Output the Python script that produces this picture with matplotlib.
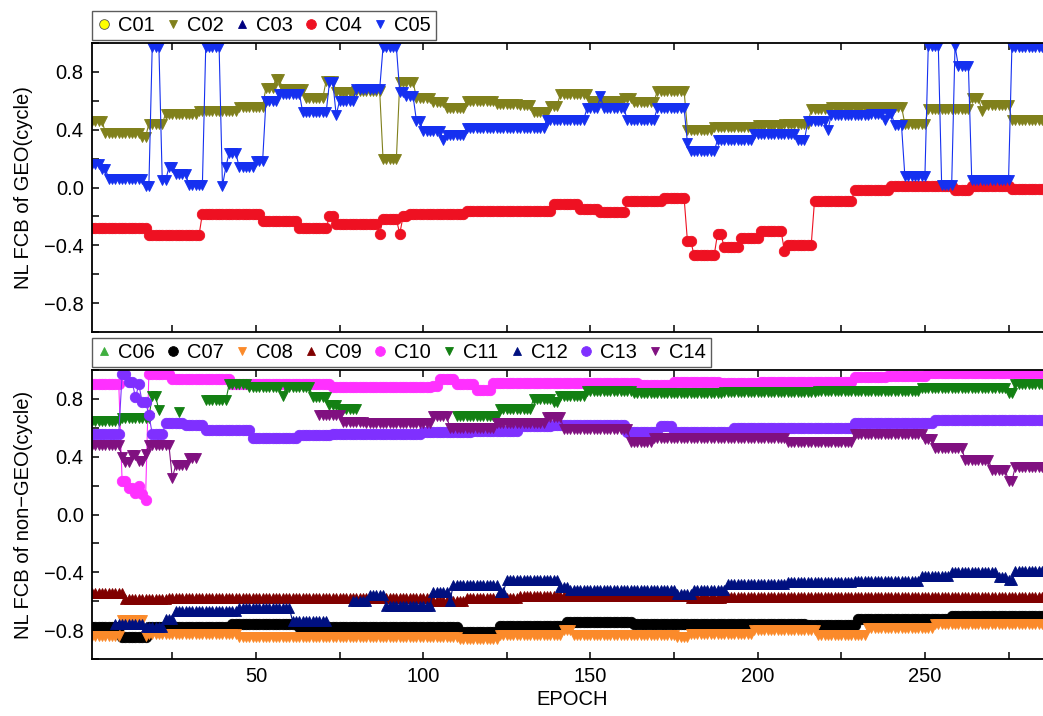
import numpy as np
import matplotlib
matplotlib.use("Agg")
import matplotlib.pyplot as plt
from matplotlib.lines import Line2D
from matplotlib.ticker import MultipleLocator, FuncFormatter

plt.rcParams['font.family'] = ['Liberation Sans', 'DejaVu Sans']

N_EPOCH = 285
NAN = np.nan

# ---- data: (start_epoch, value) step segments ----
C01 = []
C02 = [(1, 0.46), (5, 0.38), (16, 0.35), (18, 0.44), (23, 0.51), (33, 0.53), (45, 0.56),
       (53, 0.69), (56, 0.75), (58, 0.68), (65, 0.62), (71, 0.74), (74, 0.66), (80, 0.67),
       (88, 0.20), (93, 0.73), (98, 0.62), (103, 0.59), (107, 0.55), (113, 0.60), (122, 0.58),
       (129, 0.57), (133, 0.52), (138, 0.565), (141, 0.645), (150, 0.60), (160, 0.62),
       (163, 0.59), (170, 0.67), (179, 0.40), (187, 0.42), (200, 0.43), (208, 0.44),
       (216, 0.54), (222, 0.56), (244, 0.44), (251, 0.54), (264, 0.62), (267, 0.53),
       (268, 0.57), (276, 0.47)]
C03 = []
C04 = [(1, -0.28), (18, -0.33), (34, -0.18), (52, -0.23), (63, -0.28), (72, -0.20),
       (74, -0.25), (87, -0.32), (88, -0.22), (93, -0.32), (94, -0.20), (96, -0.18),
       (113, -0.16), (139, -0.115), (147, -0.15), (153, -0.17), (161, -0.09), (172, -0.07),
       (179, -0.37), (181, -0.47), (188, -0.32), (190, -0.415), (195, -0.35), (201, -0.30),
       (208, -0.44), (209, -0.40), (217, -0.09), (229, -0.02), (240, 0.01), (259, -0.02),
       (264, 0.01), (276, -0.01)]
C05 = [(1, 0.16), (4, 0.13), (6, 0.06), (17, 0.01), (19, 0.97), (22, 0.05), (24, 0.14),
       (26, 0.09), (30, 0.02), (35, 0.97), (40, 0.01), (41, 0.14), (42, 0.24), (45, 0.14),
       (50, 0.18), (53, 0.60), (57, 0.65), (64, 0.52), (72, 0.73), (74, 0.50), (75, 0.60),
       (80, 0.68), (88, 0.97), (93, 0.66), (95, 0.63), (98, 0.46), (100, 0.39), (106, 0.33),
       (107, 0.36), (113, 0.41), (129, 0.415), (137, 0.47), (149, 0.55), (153, 0.63),
       (154, 0.55), (161, 0.47), (170, 0.55), (179, 0.31), (180, 0.25), (188, 0.33),
       (199, 0.37), (212, 0.33), (215, 0.46), (221, 0.40), (222, 0.50), (234, 0.51),
       (238, 0.47), (239, 0.51), (241, 0.43), (244, 0.08), (251, 0.98), (255, 0.02),
       (259, 0.98), (260, 0.84), (264, 0.05), (276, 0.97)]

C06 = []
C07 = [(1, -0.78), (10, -0.85), (18, -0.78), (43, -0.757), (63, -0.78), (111, -0.81),
       (123, -0.77), (143, -0.745), (163, -0.76), (190, -0.755), (215, -0.765),
       (230, -0.725), (258, -0.705)]
C08 = [(1, -0.84), (10, -0.73), (17, -0.84), (18, -0.83), (45, -0.845), (75, -0.85),
       (111, -0.865), (123, -0.835), (142, -0.80), (145, -0.835), (176, -0.85),
       (180, -0.83), (199, -0.80), (218, -0.835), (233, -0.785), (253, -0.755)]
C09 = [(1, -0.54), (11, -0.585), (24, -0.575), (103, -0.60), (113, -0.575), (129, -0.565),
       (180, -0.575), (190, -0.57)]
C10 = [(1, 0.905), (10, 0.23), (12, 0.18), (14, 0.15), (15, 0.195), (16, 0.14), (17, 0.10),
       (18, 0.975), (25, 0.94), (43, 0.90), (73, 0.885), (103, 0.89), (105, 0.935),
       (110, 0.90), (116, 0.86), (121, 0.91), (165, 0.895), (175, 0.92), (189, 0.91),
       (201, 0.92), (229, 0.95), (239, 0.96), (251, 0.98)]
C11 = [(1, 0.65), (10, 0.67), (19, 0.82), (21, 0.72), (22, NAN), (27, 0.71), (28, NAN),
       (35, 0.79), (42, 0.90), (48, 0.88), (58, 0.82), (59, 0.88), (67, 0.81), (72, 0.76),
       (75, 0.73), (81, NAN), (110, 0.68), (123, 0.73), (133, 0.80), (139, 0.78),
       (141, 0.82), (149, 0.855), (163, 0.84), (190, 0.845), (218, 0.855), (249, 0.875),
       (275, 0.84), (277, 0.90)]
C12 = [(1, NAN), (8, -0.76), (17, -0.78), (23, -0.72), (26, -0.665), (45, -0.65),
       (61, -0.74), (72, NAN), (79, -0.60), (84, -0.56), (89, -0.63), (103, -0.535),
       (108, -0.60), (109, -0.49), (123, -0.535), (125, -0.455), (141, -0.50), (144, -0.52),
       (176, -0.55), (181, -0.52), (191, -0.48), (209, -0.47), (229, -0.46), (249, -0.425),
       (258, -0.40), (272, -0.435), (275, -0.45), (277, -0.39)]
C13 = [(1, 0.56), (10, 0.97), (12, 0.92), (14, 0.81), (15, 0.90), (16, 0.78), (18, 0.69),
       (19, 0.56), (23, 0.63), (29, 0.62), (35, 0.585), (49, 0.53), (63, 0.55), (73, 0.56),
       (100, 0.57), (115, 0.58), (129, 0.61), (139, 0.62), (161, 0.57), (171, 0.61),
       (175, 0.57), (193, 0.60), (229, 0.63), (253, 0.655)]
C14 = [(1, 0.48), (10, 0.40), (11, 0.36), (13, 0.41), (15, 0.37), (17, 0.42), (18, 0.48),
       (25, 0.25), (26, 0.34), (30, 0.39), (33, NAN), (69, 0.69), (76, 0.64), (83, 0.63),
       (103, 0.68), (108, 0.60), (122, 0.635), (137, 0.675), (142, 0.59), (162, 0.505),
       (169, 0.53), (209, 0.505), (229, 0.56), (250, 0.52), (253, 0.46), (262, 0.38),
       (270, 0.31), (275, 0.23), (277, 0.33)]

GEO_NAMES = ['C01', 'C02', 'C03', 'C04', 'C05']
GEO_DATA = [C01, C02, C03, C04, C05]
NGEO_NAMES = ['C06', 'C07', 'C08', 'C09', 'C10', 'C11', 'C12', 'C13', 'C14']
NGEO_DATA = [C06, C07, C08, C09, C10, C11, C12, C13, C14]

STYLE = {
    'C01': ('o', '#ffff00', '#555555'),
    'C02': ('v', '#80801c', '#80801c'),
    'C03': ('^', '#000080', '#000080'),
    'C04': ('o', '#ee1122', '#ee1122'),
    'C05': ('v', '#1530f0', '#1530f0'),
    'C06': ('^', '#3faf3f', '#3faf3f'),
    'C07': ('o', '#000000', '#000000'),
    'C08': ('v', '#fb8a2a', '#fb8a2a'),
    'C09': ('^', '#800000', '#800000'),
    'C10': ('o', '#ff30ff', '#ff30ff'),
    'C11': ('v', '#138013', '#138013'),
    'C12': ('^', '#001080', '#001080'),
    'C13': ('o', '#7f30ff', '#7f30ff'),
    'C14': ('v', '#801080', '#801080'),
}


def expand(segs, n=N_EPOCH):
    arr = np.full(n, np.nan)
    for i, (s, v) in enumerate(segs):
        e = segs[i + 1][0] if i + 1 < len(segs) else n + 1
        arr[s - 1:e - 1] = v
    return arr


def yfmt(v, pos):
    if abs(v) < 1e-9:
        v = 0.0
    return f"{v:.1f}".replace('-', '\u2212')


epochs = np.arange(1, N_EPOCH + 1)

fig = plt.figure(figsize=(10.43, 7.16), dpi=100)
ax1 = fig.add_axes([92 / 1043, 1 - 332 / 716, 1 - 92 / 1043, 289 / 716])
ax2 = fig.add_axes([92 / 1043, 1 - 659 / 716, 1 - 92 / 1043, 289 / 716])


def draw(ax, names, datas, ylabel):
    handles = []
    for nm, d in zip(names, datas):
        mk, fc, ec = STYLE[nm]
        ms = 7.5 if mk == 'o' else 7
        if len(d):
            y = expand(d)
            ax.plot(epochs, y, color=fc, lw=0.8, marker=mk, ms=ms, mfc=fc, mec=ec, mew=0.6)
        handles.append(Line2D([], [], linestyle='none', marker=mk, ms=7 if mk == 'o' else 6,
                              mfc=fc, mec=ec, mew=0.6, label=nm))
    ax.set_xlim(1, 285.3)
    ax.set_ylim(-1, 1)
    ax.yaxis.set_major_locator(MultipleLocator(0.4))
    ax.yaxis.set_minor_locator(MultipleLocator(0.2))
    ax.yaxis.set_major_formatter(FuncFormatter(yfmt))
    ax.xaxis.set_major_locator(MultipleLocator(50))
    ax.xaxis.set_minor_locator(MultipleLocator(25))
    ax.tick_params(which='both', direction='in', top=True, right=False, labelsize=14.5,
                   width=1.1, pad=6)
    ax.tick_params(which='major', length=5)
    ax.tick_params(which='minor', length=5)
    for sp in ['left', 'top', 'bottom']:
        ax.spines[sp].set_linewidth(1.3)
    ax.spines['right'].set_visible(False)
    ax.set_ylabel(ylabel, fontsize=14.5)
    ax.yaxis.set_label_coords(-0.062, 0.5)
    leg = ax.legend(handles=handles, loc='lower left', bbox_to_anchor=(0, 1.011),
                    borderaxespad=0, ncol=len(handles), fontsize=14.5, frameon=True,
                    fancybox=False, edgecolor='#333333', handlelength=0.7,
                    handletextpad=0.35, columnspacing=0.55, borderpad=0.25)
    leg.get_frame().set_linewidth(1.0)
    return ax


draw(ax1, GEO_NAMES, GEO_DATA, 'NL FCB of GEO(cycle)')
ax1.tick_params(labelbottom=False)
draw(ax2, NGEO_NAMES, NGEO_DATA, 'NL FCB of non\u2212GEO(cycle)')
ax2.set_xlabel('EPOCH', fontsize=14.5)
ax2.xaxis.set_label_coords(0.505, -0.108)

fig.savefig('out.png', dpi=100)
